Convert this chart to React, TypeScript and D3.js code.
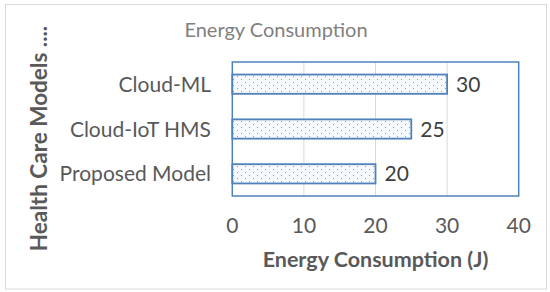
import React, { useRef, useEffect } from 'react';
import * as d3 from 'd3';

const categories = ['Proposed Model', 'Cloud-IoT HMS', 'Cloud-ML'];
const energyValues = [20, 25, 30];
const xTicks = [0, 10, 20, 30, 40];

const chartTitle = 'Energy Consumption';
const xTitle = 'Energy Consumption (J)';
const yTitle = 'Health Care Models ....';

const font = 'Lato, "Open Sans", sans-serif';

function EnergyChart() {
  const ref = useRef<SVGSVGElement>(null);

  useEffect(() => {
    if (!ref.current) return;
    const svg = d3.select(ref.current);
    svg.selectAll('*').remove();

    const plot = { left: 232.3, right: 518.7, top: 62, bottom: 196 };

    const x = d3.scaleLinear().domain([0, 40]).range([plot.left, plot.right]);
    const y = d3.scaleBand()
      .domain(categories.slice().reverse())
      .range([plot.top, plot.bottom])
      .paddingInner(0.57)
      .paddingOuter(0.28);

    // dotted fill pattern
    const defs = svg.append('defs');
    const pat = defs.append('pattern')
      .attr('id', 'dots')
      .attr('patternUnits', 'userSpaceOnUse')
      .attr('width', 8)
      .attr('height', 6);
    pat.append('rect').attr('width', 8).attr('height', 6).attr('fill', '#f5f8fc');
    pat.append('rect').attr('x', 1).attr('y', 1).attr('width', 1).attr('height', 1).attr('fill', '#7d9fcf');
    pat.append('rect').attr('x', 5).attr('y', 4).attr('width', 1).attr('height', 1).attr('fill', '#7d9fcf');

    // outer chart border
    svg.append('rect')
      .attr('x', 5.5).attr('y', 4.5)
      .attr('width', 541).attr('height', 284.5)
      .attr('fill', 'white')
      .attr('stroke', '#d9d9d9');

    // gridlines
    svg.append('g')
      .selectAll('line')
      .data(xTicks.slice(1, -1))
      .enter().append('line')
      .attr('x1', d => x(d)).attr('x2', d => x(d))
      .attr('y1', plot.top).attr('y2', plot.bottom)
      .attr('stroke', '#d9d9d9')
      .attr('stroke-width', 1);

    // plot area border
    svg.append('rect')
      .attr('x', plot.left).attr('y', plot.top)
      .attr('width', plot.right - plot.left).attr('height', plot.bottom - plot.top)
      .attr('fill', 'none')
      .attr('stroke', '#4f81bd')
      .attr('stroke-width', 1.5);

    const data = categories.map((c, i) => ({ name: c, value: energyValues[i] }));

    svg.append('g')
      .selectAll('rect')
      .data(data)
      .enter().append('rect')
      .attr('x', x(0))
      .attr('y', d => y(d.name)!)
      .attr('width', d => x(d.value) - x(0))
      .attr('height', y.bandwidth())
      .attr('fill', 'url(#dots)')
      .attr('stroke', '#4f81bd')
      .attr('stroke-width', 1.8);

    // value labels
    svg.append('g')
      .selectAll('text')
      .data(data)
      .enter().append('text')
      .attr('x', d => x(d.value) + 9)
      .attr('y', d => y(d.name)! + y.bandwidth() / 2)
      .attr('dy', '0.36em')
      .attr('fill', '#404040')
      .style('font-family', font)
      .style('font-size', '21px')
      .text(d => d.value);

    // category labels
    svg.append('g')
      .selectAll('text')
      .data(data)
      .enter().append('text')
      .attr('x', 211)
      .attr('y', d => y(d.name)! + y.bandwidth() / 2)
      .attr('dy', '0.36em')
      .attr('text-anchor', 'end')
      .attr('fill', '#595959')
      .style('font-family', font)
      .style('font-size', '21px')
      .text(d => d.name);

    // x tick labels
    svg.append('g')
      .selectAll('text')
      .data(xTicks)
      .enter().append('text')
      .attr('x', d => x(d))
      .attr('y', 233)
      .attr('text-anchor', 'middle')
      .attr('fill', '#595959')
      .style('font-family', font)
      .style('font-size', '21px')
      .text(d => d);

    svg.append('text')
      .attr('x', 375.5)
      .attr('y', 267)
      .attr('text-anchor', 'middle')
      .attr('fill', '#595959')
      .style('font-family', font)
      .style('font-size', '21.5px')
      .style('font-weight', 'bold')
      .text(xTitle);

    svg.append('text')
      .attr('transform', `translate(46.5, 138.5) rotate(-90)`)
      .attr('text-anchor', 'middle')
      .attr('fill', '#595959')
      .style('font-family', font)
      .style('font-size', '22.5px')
      .style('font-weight', 'bold')
      .text(yTitle);

    svg.append('text')
      .attr('x', 276)
      .attr('y', 37)
      .attr('text-anchor', 'middle')
      .attr('fill', '#7f7f7f')
      .style('font-family', font)
      .style('font-size', '20px')
      .text(chartTitle);
  }, []);

  return (
    <svg
      ref={ref}
      width={550}
      height={292}
      style={{ position: 'absolute', left: 0, top: 0, display: 'block', background: 'white' }}
    />
  );
}

export default function App() {
  return <EnergyChart />;
}
